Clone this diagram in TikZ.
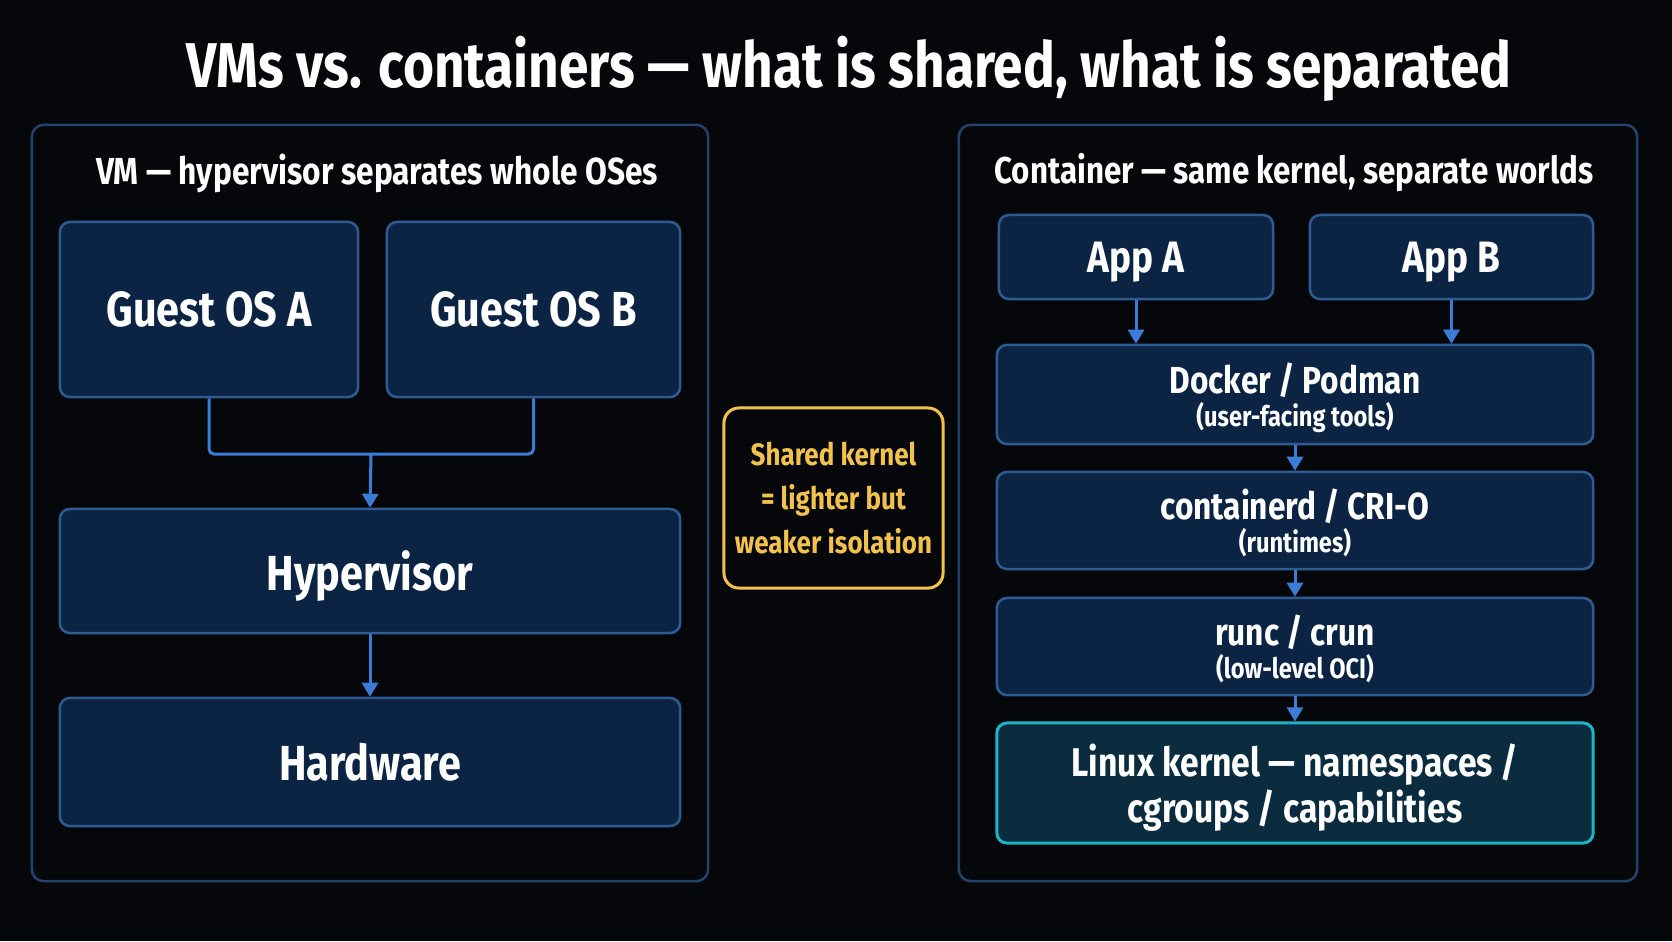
\documentclass[tikz,border=0pt]{standalone}
\usepackage{fontspec}
\setmainfont{Fira Sans}[FakeStretch=0.84]
\usetikzlibrary{arrows.meta,positioning}

\definecolor{bgdark}{HTML}{05070A}
\definecolor{panelline}{HTML}{22436B}
\definecolor{boxfill}{HTML}{0C2444}
\definecolor{boxline}{HTML}{2E5C92}
\definecolor{flowblue}{HTML}{3A7CD6}
\definecolor{kernfill}{HTML}{0A2C3E}
\definecolor{kernline}{HTML}{1FB3C6}
\definecolor{amber}{HTML}{F2C14E}

\newcommand{\fsz}[2]{\fontsize{#1}{#2}\selectfont}

\begin{document}
\begin{tikzpicture}[
  x=0.01cm, y=-0.01cm,
  >={Triangle[length=1.4mm,width=1.6mm]},
  every node/.style={text=white, font=\bfseries},
  panel/.style={draw=panelline, line width=0.25mm, rounded corners=1.2mm},
  box/.style={draw=boxline, fill=boxfill, line width=0.25mm,
              rounded corners=1mm, align=center, inner sep=0pt},
  kernbox/.style={box, draw=kernline, fill=kernfill, line width=0.3mm},
  notebox/.style={draw=amber, line width=0.3mm, rounded corners=1.5mm,
                  text=amber, align=center, inner sep=0pt},
  flow/.style={->, draw=flowblue, line width=0.3mm},
  wire/.style={draw=flowblue, line width=0.3mm, rounded corners=0.5mm}
]
  \fill[bgdark] (0,0) rectangle (1672,941);
  \useasboundingbox (0,0) rectangle (1672,941);

  \node[font=\bfseries\fsz{18}{22}] (title) at (849,69)
    {VMs vs. containers — what is shared, what is separated};

  % VM side
  \node[panel, minimum width=6.76cm, minimum height=7.56cm] (vmpanel) at (370,503) {};
  \node[font=\bfseries\fsz{10.7}{13}] (vmtitle) at (377,173)
    {VM — hypervisor separates whole OSes};
  \node[box, minimum width=2.98cm, minimum height=1.75cm, font=\bfseries\fsz{14}{17}]
    (guesta) at (209,309.5) {Guest OS A};
  \node[box, minimum width=2.93cm, minimum height=1.75cm, font=\bfseries\fsz{14}{17}]
    (guestb) at (533.5,309.5) {Guest OS B};
  \node[box, minimum width=6.2cm, minimum height=1.24cm, text depth=0pt,
        font=\bfseries\fsz{14}{17}] (hyper) at (370,571) {Hypervisor};
  \node[box, minimum width=6.2cm, minimum height=1.28cm, font=\bfseries\fsz{14}{17}]
    (hw) at (370,762) {Hardware};

  \coordinate (merge) at (371,454);
  \draw[wire] (guesta.south) |- (merge) -| (guestb.south);
  \draw[flow] (merge) -- (hyper.north);
  \draw[flow] (hyper) -- (hw);

  % middle note
  \node[notebox, minimum width=2.19cm, minimum height=1.8cm,
        font=\bfseries\fsz{8.8}{12.5}] (note) at (833.5,498)
    {Shared kernel\\= lighter but\\weaker isolation};

  % container side
  \node[panel, minimum width=6.78cm, minimum height=7.56cm] (ctpanel) at (1298,503) {};
  \node[font=\bfseries\fsz{10.6}{13}] (cttitle) at (1294,173)
    {Container — same kernel, separate worlds};
  \node[box, minimum width=2.74cm, minimum height=0.84cm, text depth=0pt,
        font=\bfseries\fsz{12.5}{15}] (appa) at (1136,257) {App A};
  \node[box, minimum width=2.83cm, minimum height=0.84cm, text depth=0pt,
        font=\bfseries\fsz{12.5}{15}] (appb) at (1451.5,257) {App B};
  \node[box, minimum width=5.96cm, minimum height=0.99cm, text depth=0pt]
    (docker) at (1295,394.5)
    {{\fsz{10.7}{13}Docker / Podman}\\[-2.7pt]{\fsz{8}{10}(user-facing tools)}};
  \node[box, minimum width=5.96cm, minimum height=0.97cm, text depth=0pt]
    (ctrd) at (1295,520.5)
    {{\fsz{10.7}{13}containerd / CRI-O}\\[-2.7pt]{\fsz{8}{10}(runtimes)}};
  \node[box, minimum width=5.96cm, minimum height=0.97cm, text depth=0pt]
    (runc) at (1295,646.5)
    {{\fsz{10.7}{13}runc / crun}\\[-2.7pt]{\fsz{8}{10}(low-level OCI)}};
  \node[kernbox, minimum width=5.96cm, minimum height=1.2cm, text depth=0pt,
        font=\bfseries\fsz{11.4}{13.2}] (kernel) at (1295,783)
    {Linux kernel — namespaces /\\cgroups / capabilities};

  \draw[flow] (appa) -- (appa |- docker.north);
  \draw[flow] (appb) -- (appb |- docker.north);
  \draw[flow] (docker) -- (ctrd);
  \draw[flow] (ctrd) -- (runc);
  \draw[flow] (runc) -- (kernel);
\end{tikzpicture}
\end{document}
